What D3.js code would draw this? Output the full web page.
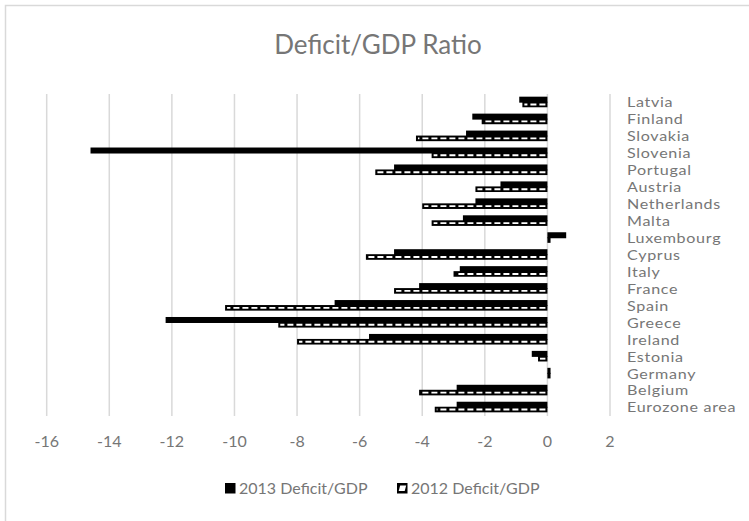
<!DOCTYPE html>
<html>
<head>
<meta charset="utf-8">
<script src="https://cdn.jsdelivr.net/npm/d3@7"></script>
<style>
  body { margin: 0; background: #fff; }
  text { font-family: Lato, "Open Sans", sans-serif; fill: #767676; }
</style>
</head>
<body>
<div id="chart"></div>
<script>
// countries, top to bottom as shown
const countries = ["Latvia", "Finland", "Slovakia", "Slovenia", "Portugal", "Austria",
  "Netherlands", "Malta", "Luxembourg", "Cyprus", "Italy", "France", "Spain", "Greece",
  "Ireland", "Estonia", "Germany", "Belgium", "Eurozone area"];
const deficit2013 = [-0.9, -2.4, -2.6, -14.6, -4.9, -1.5, -2.3, -2.7, 0.6, -4.9, -2.8, -4.1,
  -6.8, -12.2, -5.7, -0.5, 0.1, -2.9, -2.9];
const deficit2012 = [-0.8, -2.1, -4.2, -3.7, -5.5, -2.3, -4.0, -3.7, 0.1, -5.8, -3.0, -4.9,
  -10.3, -8.6, -8.0, -0.3, 0.1, -4.1, -3.6];
const xTicks = [-16, -14, -12, -10, -8, -6, -4, -2, 0, 2];
const seriesNames = ["2013 Deficit/GDP", "2012 Deficit/GDP"];

const rows = countries.map((c, i) => ({ country: c, v13: deficit2013[i], v12: deficit2012[i] }));

const width = 749, height = 521;
const svg = d3.select('#chart')
  .append('svg')
    .attr('width', width)
    .attr('height', height);

// chart border
svg.append('rect')
  .attr('x', 5.5).attr('y', 5.5)
  .attr('width', 800).attr('height', 600)
  .attr('fill', '#fff')
  .attr('stroke', '#d9d9d9')
  .attr('stroke-width', 1.5);

svg.append('text')
  .attr('x', 378)
  .attr('y', 54)
  .attr('text-anchor', 'middle')
  .style('font-size', '26px')
  .text('Deficit/GDP Ratio');

const x = d3.scaleLinear().domain([-16, 2]).range([46.7, 610]);
const y = d3.scaleBand().domain(countries).range([94, 416]);

// gridlines
svg.append('g')
  .selectAll('line')
  .data(xTicks)
  .join('line')
    .attr('x1', d => x(d)).attr('x2', d => x(d))
    .attr('y1', 94).attr('y2', 416)
    .attr('stroke', '#d9d9d9')
    .attr('stroke-width', 1.5);

// tick labels
svg.append('g')
  .selectAll('text')
  .data(xTicks)
  .join('text')
    .attr('x', d => x(d))
    .attr('y', 447)
    .attr('text-anchor', 'middle')
    .style('font-size', '16px')
    .text(d => d);

const bars = svg.append('g')
  .selectAll('g')
  .data(rows)
  .join('g')
    .attr('transform', d => `translate(0,${y(d.country) + y.bandwidth() / 2})`);

// 2013: solid black
bars.append('rect')
  .attr('x', d => Math.min(x(0), x(d.v13)))
  .attr('y', -5.8)
  .attr('width', d => Math.abs(x(d.v13) - x(0)))
  .attr('height', 6)
  .attr('fill', '#000');

// 2012: black outlined bar with white dashes
bars.append('rect')
  .attr('x', d => Math.min(x(0), x(d.v12)))
  .attr('y', -0.8)
  .attr('width', d => Math.abs(x(d.v12) - x(0)))
  .attr('height', 5.6)
  .attr('fill', '#000');

bars.filter(d => Math.abs(x(d.v12) - x(0)) > 5)
  .append('line')
    .attr('x1', x(0) - 2)
    .attr('x2', d => x(d.v12) + 2)
    .attr('y1', 2).attr('y2', 2)
    .attr('stroke', '#fff')
    .attr('stroke-width', 1.9)
    .attr('stroke-dasharray', '6,3');

// category labels (stretched a bit to match the wider original font)
svg.append('g')
  .selectAll('text')
  .data(countries)
  .join('text')
    .attr('transform', d => `translate(627,${y(d) + y.bandwidth() / 2}) scale(1.15,1)`)
    .attr('dy', '0.35em')
    .style('font-size', '14px')
    .style('letter-spacing', '0.6px')
    .text(d => d);

// legend
const legend = svg.append('g');
const legendX = [225, 397];
legend.selectAll('rect.key')
  .data(seriesNames)
  .join('rect')
    .attr('class', 'key')
    .attr('x', (d, i) => legendX[i])
    .attr('y', 483)
    .attr('width', 10.5)
    .attr('height', 10.5)
    .attr('fill', '#000');

legend.append('rect')
  .attr('x', legendX[1] + 2.5).attr('y', 485.5)
  .attr('width', 6).attr('height', 5.5)
  .attr('fill', '#fff')
  .attr('transform', `skewX(-15)`)
  .attr('transform-origin', `${legendX[1] + 5} 488`);

legend.selectAll('text')
  .data(seriesNames)
  .join('text')
    .attr('x', (d, i) => legendX[i] + 14)
    .attr('y', 488.5)
    .attr('dy', '0.35em')
    .style('font-size', '16px')
    .text(d => d);
</script>
</body>
</html>
